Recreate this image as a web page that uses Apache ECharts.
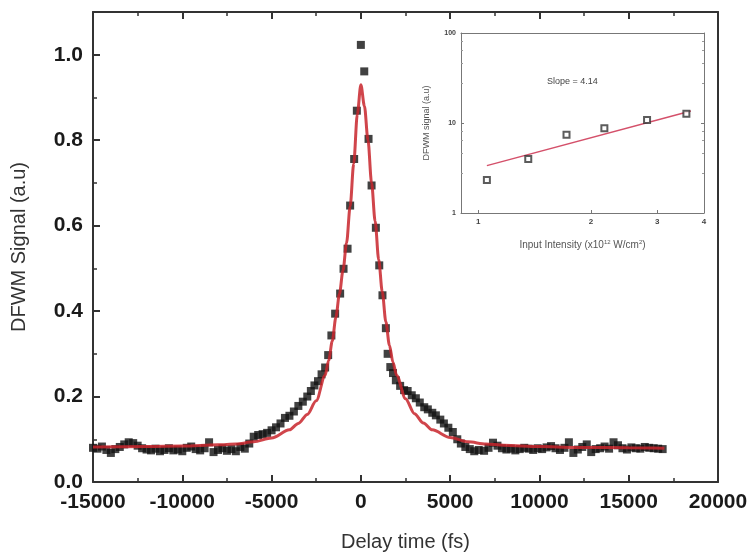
<!DOCTYPE html>
<html>
<head>
<meta charset="utf-8">
<script src="https://cdn.jsdelivr.net/npm/echarts@6/dist/echarts.min.js"></script>
<style>html,body{margin:0;padding:0;background:#fff;}#c{width:753px;height:557px;}</style>
</head>
<body>
<div id="c"></div>
<script>
// Main panel: DFWM signal vs delay time (fs)
const delay = [-15000,-14750,-14500,-14250,-14000,-13750,-13500,-13250,-13000,-12750,-12500,-12250,-12000,-11750,-11500,-11250,-11000,-10750,-10500,-10250,-10000,-9750,-9500,-9250,-9000,-8750,-8500,-8250,-8000,-7750,-7500,-7250,-7000,-6750,-6500,-6250,-6000,-5750,-5500,-5250,-5000,-4750,-4500,-4250,-4000,-3750,-3500,-3250,-3000,-2800,-2600,-2400,-2200,-2000,-1830,-1650,-1440,-1160,-970,-745,-600,-375,-225,0,190,430,600,840,1030,1210,1400,1500,1650,1800,1960,2200,2420,2620,2850,3080,3300,3550,3750,4000,4200,4450,4650,4900,5150,5400,5600,5850,6100,6350,6600,6900,7150,7400,7650,7900,8150,8400,8650,8900,9150,9400,9650,9900,10150,10400,10650,10900,11150,11400,11650,11900,12150,12400,12650,12900,13150,13400,13650,13900,14150,14400,14650,14900,15150,15400,15650,15900,16150,16400,16650,16900];
const signal = [0.080,0.078,0.083,0.075,0.068,0.077,0.082,0.088,0.093,0.091,0.085,0.079,0.076,0.074,0.078,0.072,0.075,0.079,0.074,0.076,0.072,0.080,0.083,0.077,0.074,0.079,0.093,0.070,0.075,0.079,0.073,0.077,0.072,0.082,0.078,0.090,0.106,0.110,0.112,0.115,0.121,0.128,0.137,0.150,0.155,0.165,0.178,0.188,0.200,0.213,0.226,0.236,0.252,0.268,0.297,0.343,0.394,0.441,0.499,0.546,0.647,0.756,0.869,1.023,0.961,0.803,0.694,0.595,0.507,0.437,0.360,0.300,0.269,0.255,0.238,0.225,0.215,0.213,0.203,0.196,0.186,0.175,0.170,0.162,0.156,0.146,0.137,0.127,0.117,0.100,0.090,0.082,0.077,0.072,0.075,0.073,0.080,0.092,0.085,0.079,0.076,0.078,0.074,0.077,0.080,0.078,0.075,0.079,0.077,0.081,0.084,0.079,0.075,0.080,0.093,0.068,0.076,0.082,0.088,0.070,0.077,0.079,0.083,0.078,0.093,0.086,0.079,0.076,0.081,0.079,0.078,0.082,0.080,0.079,0.078,0.077];
const fitDelay = [-15000,-12000,-10000,-8000,-7000,-6000,-5000,-4000,-3500,-3000,-2500,-2000,-1800,-1600,-1400,-1200,-1000,-800,-600,-400,-200,0,200,400,600,800,1000,1200,1400,1600,1800,2000,2500,3000,3500,4000,5000,6000,7000,8000,10000,12000,15000,17000];
const fitSignal = [0.082,0.083,0.084,0.087,0.089,0.094,0.103,0.122,0.137,0.158,0.190,0.250,0.285,0.330,0.385,0.440,0.495,0.560,0.645,0.745,0.860,0.930,0.880,0.800,0.700,0.610,0.520,0.445,0.375,0.320,0.280,0.250,0.195,0.160,0.138,0.122,0.104,0.094,0.089,0.086,0.083,0.081,0.080,0.079];

// Inset: DFWM signal vs input intensity (log-log)
const intensity = [1.055,1.36,1.72,2.17,2.82,3.59];
const dfwm = [2.33,3.98,7.41,8.73,10.8,12.7];
const insetFitX = [1.055,3.69];
const insetFitY = [3.36,13.6];
const insetXTicks = [1,2,3,4];
const slopeText = 'Slope = 4.14';

const FONT = 'Liberation Sans, Arial, sans-serif';
const AX = '#333';

function zip(a,b){return a.map((v,i)=>[v,b[i]]);}

const chart = echarts.init(document.getElementById('c'), null, {renderer:'canvas'});
chart.setOption({
  backgroundColor:'#fff',
  animation:false,
  textStyle:{fontFamily:FONT},
  grid:[
    {left:93, top:12, right:35, bottom:75},
    {left:461, top:33, width:243, height:180}
  ],
  xAxis:[
    {gridIndex:0, type:'value', min:-15000, max:20000, interval:5000, position:'bottom',
     axisLine:{onZero:false, lineStyle:{color:AX, width:2}},
     axisTick:{inside:true, length:7, lineStyle:{color:AX, width:2}},
     minorTick:{show:true, splitNumber:2, length:4, lineStyle:{color:AX, width:1.5}},
     axisLabel:{fontSize:21, fontWeight:'bold', color:'#1a1a1a', margin:10, fontFamily:FONT,
                formatter:v=>String(v)},
     splitLine:{show:false},
     name:'Delay time (fs)', nameLocation:'middle', nameGap:50,
     nameTextStyle:{fontSize:20, color:'#333', fontFamily:FONT}},
    {gridIndex:0, type:'value', min:-15000, max:20000, interval:5000, position:'top',
     axisLine:{onZero:false, lineStyle:{color:AX, width:2}},
     axisTick:{inside:true, length:7, lineStyle:{color:AX, width:2}},
     minorTick:{show:true, splitNumber:2, length:4, lineStyle:{color:AX, width:1.5}},
     axisLabel:{show:false}, splitLine:{show:false}},
    {gridIndex:1, type:'log', logBase:10, min:0.9, max:4, position:'bottom',
     axisLine:{onZero:false, lineStyle:{color:'#777', width:1}},
     axisTick:{inside:true, length:3, customValues:insetXTicks, lineStyle:{color:'#777'}},
     axisLabel:{fontSize:8, fontWeight:'bold', color:'#444', margin:5, customValues:insetXTicks},
     splitLine:{show:false},
     name:'Input Intensity (x10{s|12} W/cm{s|2})', nameLocation:'middle', nameGap:26,
     nameTextStyle:{fontSize:10, color:'#555', rich:{s:{fontSize:6, verticalAlign:'top', color:'#555', padding:[0,0,6,0]}}}},
    {gridIndex:1, type:'log', logBase:10, min:0.9, max:4, position:'top',
     axisLine:{onZero:false, lineStyle:{color:'#777', width:1}},
     axisTick:{show:false}, axisLabel:{show:false}, splitLine:{show:false}}
  ],
  yAxis:[
    {gridIndex:0, type:'value', min:0, max:1.1, interval:0.2, position:'left',
     axisLine:{onZero:false, lineStyle:{color:AX, width:2}},
     axisTick:{inside:true, length:7, lineStyle:{color:AX, width:2}},
     minorTick:{show:true, splitNumber:2, length:4, lineStyle:{color:AX, width:1.5}},
     axisLabel:{fontSize:21, fontWeight:'bold', color:'#1a1a1a', margin:10, fontFamily:FONT,
                showMaxLabel:false, formatter:v=>v.toFixed(1)},
     splitLine:{show:false},
     name:'DFWM Signal (a.u)', nameLocation:'middle', nameGap:64,
     nameTextStyle:{fontSize:20, color:'#333', fontFamily:FONT}},
    {gridIndex:0, type:'value', min:0, max:1.1, position:'right',
     axisLine:{onZero:false, lineStyle:{color:AX, width:2}},
     axisTick:{show:false}, axisLabel:{show:false}, splitLine:{show:false}},
    {gridIndex:1, type:'log', logBase:10, min:1, max:100, position:'left',
     axisLine:{onZero:false, lineStyle:{color:'#777', width:1}},
     axisTick:{inside:true, length:3, lineStyle:{color:'#777'}},
     minorTick:{show:true, splitNumber:5, length:2, lineStyle:{color:'#999'}},
     axisLabel:{fontSize:7, fontWeight:'bold', color:'#444', margin:5},
     splitLine:{show:false},
     name:'DFWM signal (a.u)', nameLocation:'middle', nameGap:30,
     nameTextStyle:{fontSize:9, color:'#555'}},
    {gridIndex:1, type:'log', logBase:10, min:1, max:100, position:'right',
     axisLine:{onZero:false, lineStyle:{color:'#777', width:1}},
     axisTick:{inside:true, length:3, lineStyle:{color:'#777'}},
     minorTick:{show:true, splitNumber:5, length:2, lineStyle:{color:'#999'}},
     axisLabel:{show:false}, splitLine:{show:false}}
  ],
  graphic:[
    {type:'text', left:547, top:77, style:{text:slopeText, fontSize:9, fill:'#444', fontFamily:FONT}}
  ],
  series:[
    {type:'scatter', xAxisIndex:0, yAxisIndex:0, data:zip(delay, signal),
     symbol:'rect', symbolSize:8, itemStyle:{color:'#111'}, z:2},
    {type:'line', xAxisIndex:0, yAxisIndex:0, data:zip(fitDelay, fitSignal),
     smooth:0.3, smoothMonotone:'x', showSymbol:false, lineStyle:{color:'#c8242b', width:3, opacity:0.85}, z:3},
    {type:'line', xAxisIndex:2, yAxisIndex:2, data:zip(insetFitX, insetFitY),
     showSymbol:false, lineStyle:{color:'#d4506a', width:1.5}, z:3},
    {type:'scatter', xAxisIndex:2, yAxisIndex:2, data:zip(intensity, dfwm),
     symbol:'emptyRect', symbolSize:6, itemStyle:{color:'#333', borderWidth:1.3}, z:4}
  ]
});
</script>
</body>
</html>
